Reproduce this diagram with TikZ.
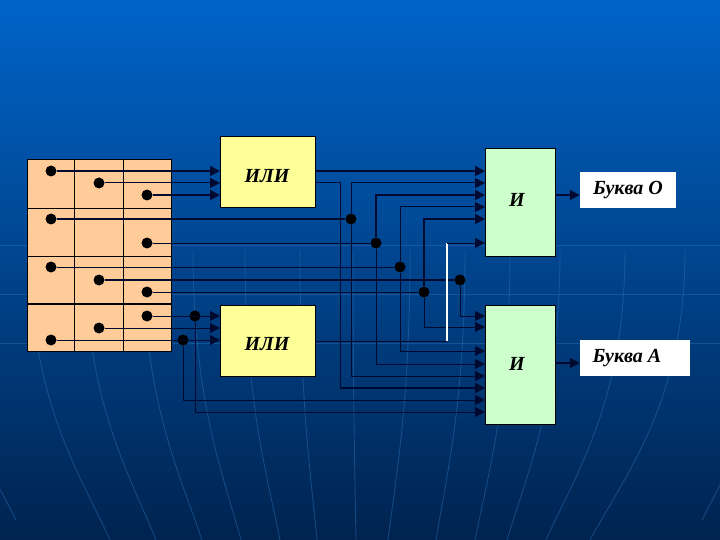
\documentclass[tikz,border=0pt]{standalone}
\usepackage{fontspec}
\setmainfont{Liberation Serif}
\usepackage{tikz}
\usetikzlibrary{arrows.meta,calc}
\definecolor{SlideTop}{HTML}{0064C8}
\definecolor{SlideMid}{HTML}{00489A}
\definecolor{SlideLow}{HTML}{00234F}
\definecolor{SlideArc}{HTML}{2F72B8}
\definecolor{WireDark}{HTML}{000A30}
\definecolor{TablePeach}{HTML}{FFCC99}
\definecolor{OrYellow}{HTML}{FFFF99}
\definecolor{AndGreen}{HTML}{CCFFCC}
\tikzset{
  gatebox/.style={draw=black,line width=.9pt,inner sep=0pt},
  gatetext/.style={font=\fontsize{20}{20}\selectfont\bfseries\itshape},
  lettertext/.style={font=\fontsize{20}{20}\selectfont\bfseries\itshape},
  letterbox/.style={fill=white,inner sep=0pt},
  dot/.style={circle,fill=black,inner sep=0pt,minimum width=11pt,minimum height=11pt},
  wire/.style={WireDark,line width=1pt},
  wirethick/.style={WireDark,line width=1.9pt},
  arctrace/.style={SlideArc,opacity=.45,line width=.9pt},
}
\begin{document}
\begin{tikzpicture}[x=1pt,y=-1pt,>={Triangle[length=10pt,width=10pt]}]
  \useasboundingbox (0,0) rectangle (720,540);
  \shade[top color=SlideTop,middle color=SlideMid,bottom color=SlideLow] (0,0) rectangle (720,540);
  % faint slide decoration
  \foreach \ya in {245,294,343} \draw[arctrace] (0,\ya)--(720,\ya);
  \foreach \xa/\xb in {30/110,85/156,143/202,193/241,245/280,300/317,353/356,
                       410/388,465/436,510/475,560/507,625/546,685/590}
    \draw[arctrace] (\xa,250) .. controls (\xa,400) and ({\xa+(\xb-\xa)*.6},470) .. (\xb,540);
  \draw[arctrace] (0,489)--(16,520);
  \draw[arctrace] (720,485)--(702,520);
  % table
  \node[draw=black,line width=1pt,fill=TablePeach,minimum width=144pt,minimum height=191pt,inner sep=0pt] (tbl) at (99,255.5) {};
  \foreach \xa in {74.5,123.5} \draw[black,line width=.8pt] (\xa,160)--(\xa,351);
  \foreach \ya in {208,256.5} \draw[black,line width=.8pt] (27,\ya)--(171,\ya);
  \draw[black,line width=1.6pt] (27,304)--(171,304);
  % gates
  \node[gatebox,fill=OrYellow,minimum width=95pt,minimum height=71pt] (or1) at (267.5,171.5) {};
  \node[gatebox,fill=OrYellow,minimum width=95pt,minimum height=71pt] (or2) at (267.5,340.5) {};
  \node[gatebox,fill=AndGreen,minimum width=70pt,minimum height=108pt] (and1) at (520,202) {};
  \node[gatebox,fill=AndGreen,minimum width=70pt,minimum height=119pt] (and2) at (520,364.5) {};
  \node[gatetext] (or1t) at (267,176) {ИЛИ};
  \node[gatetext] (or2t) at (267,344) {ИЛИ};
  \node[gatetext] (and1t) at (517,200) {И};
  \node[gatetext] (and2t) at (517,364) {И};
  \node[letterbox,minimum width=96pt,minimum height=36pt] (lo) at (628,190) {};
  \node[letterbox,minimum width=110pt,minimum height=36pt] (la) at (635,358) {};
  \node[lettertext] (lot) at (628,190) {Буква О};
  \node[lettertext] (lat) at (627,358) {Буква А};
  % input ports
  \foreach \name/\ya in {oa1/171,oa2/183,oa3/195} \coordinate (\name) at (220,\ya);
  \foreach \name/\ya in {ob1/316,ob2/328,ob3/340} \coordinate (\name) at (220,\ya);
  \foreach \name/\ya in {pa1/171,pa2/183,pa3/195,pa4/207,pa5/219,pa6/243} \coordinate (\name) at (485,\ya);
  \foreach \name/\ya in {pb1/316,pb2/327,pb3/351,pb4/364,pb5/376,pb6/388,pb7/400,pb8/412} \coordinate (\name) at (485,\ya);
  \coordinate (turnor) at (340,388);
  \coordinate (turnlo) at (447,341);
  \coordinate (turnhi) at (447,243);
  % dots in the table and on the wires
  \foreach \name/\px/\py in {d1/51/171,d2/99/183,d3/147/195,d4/51/219,d5/147/243,d6/51/267,d7/99/280,
                             d8/147/292,d9/147/316,d10/99/328,d11/51/340,
                             j1/351/219,j2/376/243,j3/400/267,j4/424/292,j5/460/280,j6/195/316,j7/183/340}
    \node[dot] (\name) at (\px,\py) {};
  % table to gates
  \draw[wirethick,->] (d1)--(oa1);
  \draw[wire,->] (d2)--(oa2);
  \draw[wirethick,->] (d3)--(oa3);
  \draw[wire,->] (d9)--(ob1);
  \draw[wire,->] (d10)--(ob2);
  \draw[wire,->] (d11)--(ob3);
  % table to junctions
  \draw[wirethick] (d4)--(j1);
  \draw[wire] (d5)--(j2);
  \draw[wire] (d6)--(j3);
  \draw[wirethick] (d7)--(j5);
  \draw[wire] (d8)--(j4);
  % junctions to and gates
  \draw[wire,->] (j1) |- (pa2);
  \draw[wire,->] (j1) |- (pb5);
  \draw[wirethick,->] (j2) |- (pa3);
  \draw[wire,->] (j2) |- (pb4);
  \draw[wire,->] (j3) |- (pa4);
  \draw[wire,->] (j3) |- (pb3);
  \draw[wirethick,->] (j4) |- (pa5);
  \draw[wire,->] (j4) |- (pb2);
  \draw[wire,->] (j5) |- (pb1);
  \draw[wire,->] (j7) |- (pb7);
  \draw[wire,->] (j6) |- (pb8);
  % or gates to and gates
  \draw[wirethick,->] (or1.east |- pa1)--(pa1);
  \draw[wire] (or1.east |- pa2) -| (turnor);
  \draw[wirethick,->] (turnor)--(pb6);
  \draw[wire] (or2.east |- turnlo)--(turnlo);
  \draw[white,line width=1.2pt] (turnlo)--(turnhi);
  \draw[wire,->] (turnhi)--(pa6);
  % outputs
  \draw[wirethick,->] (and1.east |- lo.west)+(0,5)--($(lo.west)+(0,5)$);
  \draw[wirethick,->] (and2.east |- la.west)+(0,5)--($(la.west)+(0,5)$);
\end{tikzpicture}
\end{document}
